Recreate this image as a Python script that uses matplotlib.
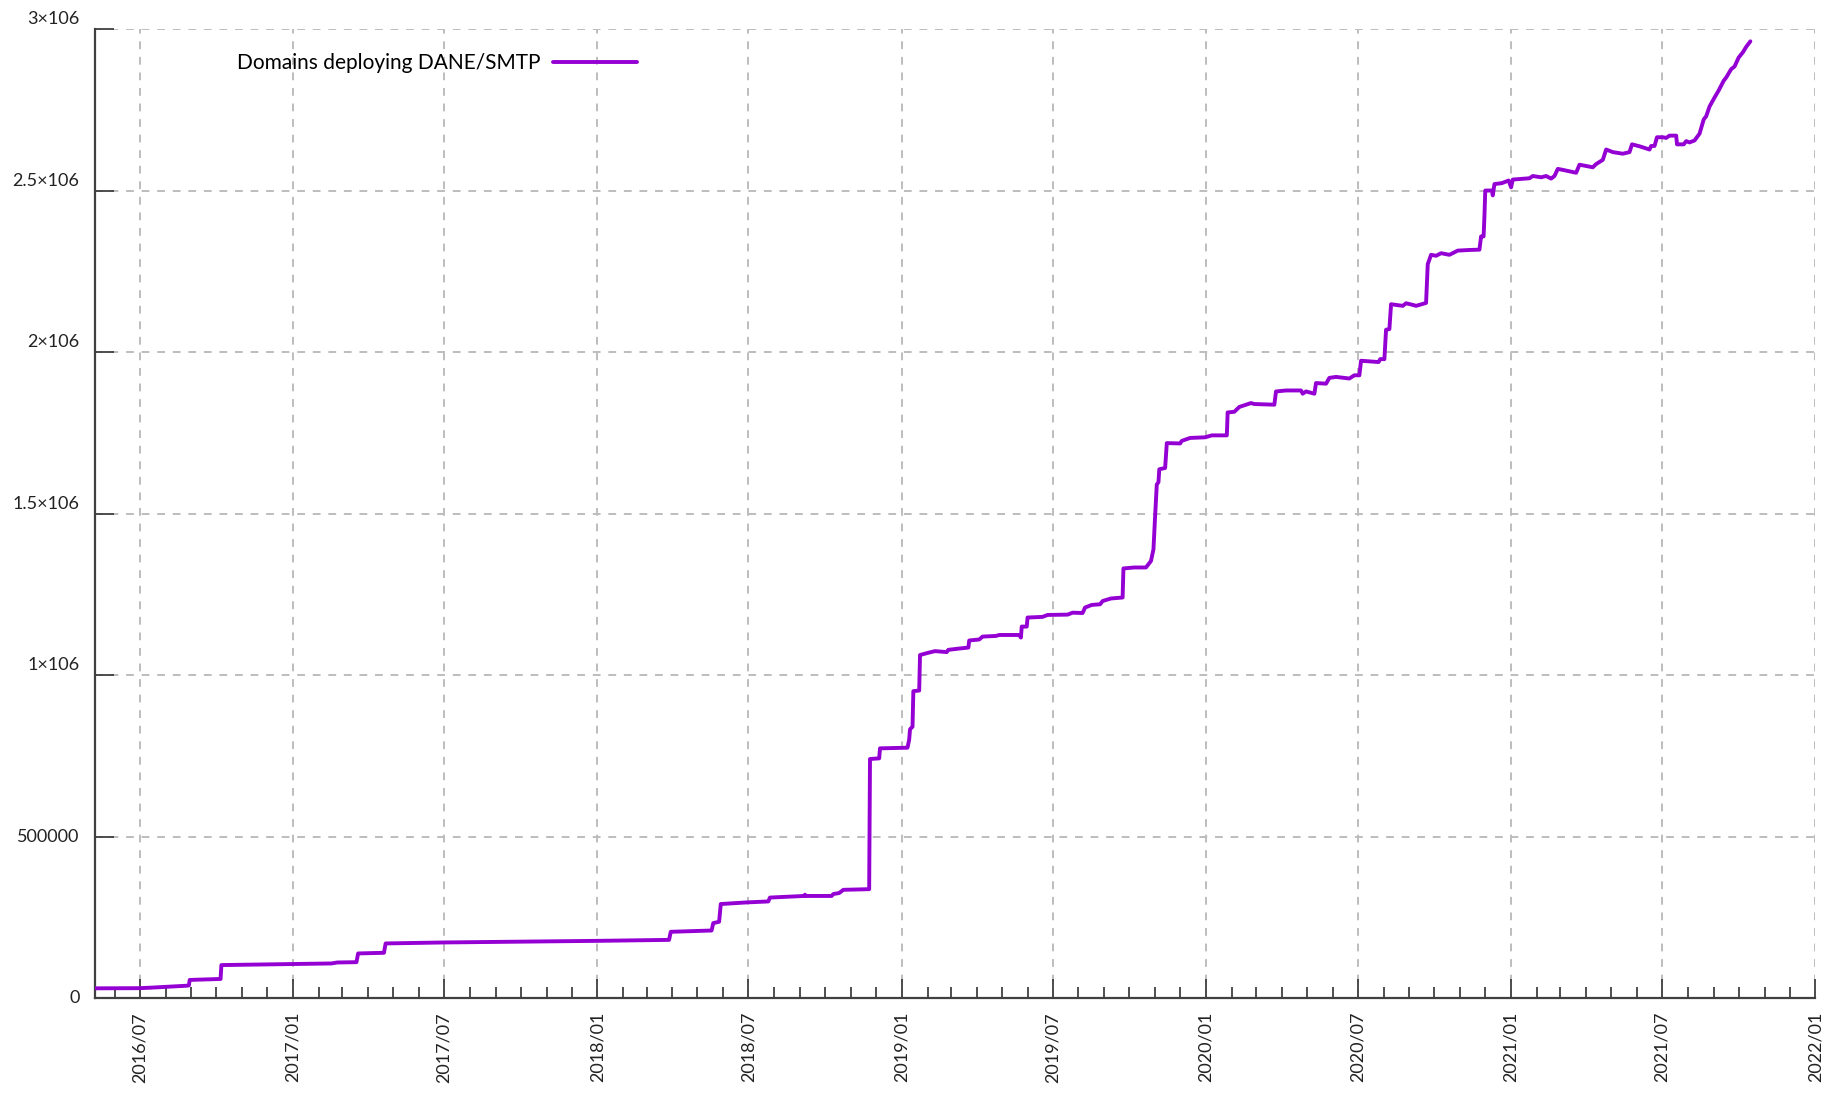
import numpy as np
import matplotlib
matplotlib.use("Agg")
import matplotlib.pyplot as plt
import matplotlib.dates as mdates
from matplotlib.transforms import blended_transform_factory, ScaledTranslation

plt.rcParams['font.family'] = ['Lato', 'DejaVu Sans']

# data
dates = [
    "2016-05-09", "2016-07-01", "2016-07-14", "2016-08-26", "2016-08-29", "2016-08-30",
    "2016-10-06", "2016-10-07", "2016-12-26", "2017-02-16", "2017-02-23", "2017-03-18",
    "2017-03-20", "2017-04-20", "2017-04-22", "2017-07-01", "2018-01-01", "2018-03-28",
    "2018-03-30", "2018-04-25", "2018-05-18", "2018-05-20", "2018-05-27", "2018-05-29",
    "2018-06-17", "2018-06-29", "2018-07-25", "2018-07-27", "2018-08-20", "2018-09-06",
    "2018-09-07", "2018-09-08", "2018-10-09", "2018-10-11", "2018-10-18", "2018-10-23",
    "2018-11-23", "2018-11-24", "2018-12-05", "2018-12-06", "2019-01-08", "2019-01-10",
    "2019-01-11", "2019-01-14", "2019-01-15", "2019-01-22", "2019-01-23", "2019-02-02",
    "2019-02-10", "2019-02-24", "2019-02-26", "2019-03-11", "2019-03-22", "2019-03-23",
    "2019-04-04", "2019-04-08", "2019-04-24", "2019-04-28", "2019-05-22", "2019-05-24",
    "2019-05-25", "2019-05-31", "2019-06-01", "2019-06-19", "2019-06-25", "2019-07-19",
    "2019-07-25", "2019-08-06", "2019-08-09", "2019-08-17", "2019-08-27", "2019-08-30",
    "2019-09-09", "2019-09-23", "2019-09-24", "2019-10-07", "2019-10-21", "2019-10-27",
    "2019-10-30", "2019-11-01", "2019-11-03", "2019-11-05", "2019-11-06", "2019-11-13",
    "2019-11-15", "2019-12-01", "2019-12-03", "2019-12-13", "2019-12-31", "2020-01-08",
    "2020-01-26", "2020-01-27", "2020-02-04", "2020-02-10", "2020-02-18", "2020-02-24",
    "2020-02-28", "2020-03-23", "2020-03-25", "2020-04-06", "2020-04-24", "2020-04-26",
    "2020-04-30", "2020-05-10", "2020-05-12", "2020-05-24", "2020-05-28", "2020-06-05",
    "2020-06-21", "2020-06-27", "2020-07-03", "2020-07-05", "2020-07-26", "2020-07-28",
    "2020-08-02", "2020-08-04", "2020-08-08", "2020-08-10", "2020-08-24", "2020-08-28",
    "2020-09-05", "2020-09-09", "2020-09-21", "2020-09-23", "2020-09-27", "2020-10-03",
    "2020-10-09", "2020-10-19", "2020-10-29", "2020-11-12", "2020-11-24", "2020-11-26",
    "2020-11-29", "2020-11-30", "2020-12-01", "2020-12-09", "2020-12-10", "2020-12-12",
    "2020-12-21", "2020-12-29", "2021-01-01", "2021-01-03", "2021-01-23", "2021-01-27",
    "2021-02-06", "2021-02-12", "2021-02-18", "2021-02-22", "2021-02-26", "2021-03-04",
    "2021-03-20", "2021-03-24", "2021-04-09", "2021-04-13", "2021-04-21", "2021-04-25",
    "2021-05-03", "2021-05-15", "2021-05-23", "2021-05-26", "2021-06-04", "2021-06-16",
    "2021-06-18", "2021-06-22", "2021-06-25", "2021-07-02", "2021-07-06", "2021-07-10",
    "2021-07-18", "2021-07-19", "2021-07-27", "2021-07-30", "2021-08-03", "2021-08-09",
    "2021-08-15", "2021-08-20", "2021-08-23", "2021-08-27", "2021-09-02", "2021-09-07",
    "2021-09-13", "2021-09-16", "2021-09-22", "2021-09-26", "2021-10-01", "2021-10-06",
    "2021-10-10", "2021-10-15",
]
domains = [
    30000, 30500, 32000, 38000, 39000, 56000,
    59000, 102000, 105000, 107000, 110000, 111000,
    138000, 140000, 169000, 172000, 177000, 180000,
    205000, 207000, 209000, 232000, 236000, 291000,
    294000, 296000, 299000, 311000, 314000, 316000,
    320000, 316000, 316000, 322000, 325000, 335000,
    337000, 740000, 742000, 773000, 775000, 800000,
    832000, 840000, 950000, 952000, 1062000, 1069000,
    1074000, 1071000, 1078000, 1082000, 1085000, 1107000,
    1110000, 1119000, 1121000, 1124000, 1124000, 1116000,
    1150000, 1150000, 1178000, 1180000, 1186000, 1187000,
    1193000, 1192000, 1209000, 1217000, 1219000, 1229000,
    1237000, 1240000, 1330000, 1333000, 1333000, 1353000,
    1389000, 1493000, 1590000, 1597000, 1637000, 1641000,
    1718000, 1717000, 1725000, 1734000, 1736000, 1742000,
    1742000, 1813000, 1815000, 1830000, 1837000, 1842000,
    1839000, 1837000, 1878000, 1881000, 1881000, 1871000,
    1878000, 1871000, 1904000, 1902000, 1920000, 1923000,
    1918000, 1928000, 1928000, 1973000, 1969000, 1978000,
    1978000, 2069000, 2071000, 2148000, 2143000, 2151000,
    2146000, 2143000, 2152000, 2272000, 2301000, 2298000,
    2306000, 2301000, 2314000, 2316000, 2317000, 2358000,
    2358000, 2420000, 2500000, 2500000, 2485000, 2520000,
    2523000, 2531000, 2510000, 2534000, 2538000, 2545000,
    2541000, 2545000, 2537000, 2545000, 2567000, 2564000,
    2555000, 2580000, 2572000, 2582000, 2595000, 2627000,
    2619000, 2614000, 2619000, 2643000, 2637000, 2627000,
    2638000, 2638000, 2665000, 2665000, 2663000, 2670000,
    2670000, 2643000, 2643000, 2653000, 2649000, 2655000,
    2676000, 2720000, 2730000, 2760000, 2788000, 2810000,
    2840000, 2850000, 2876000, 2884000, 2912000, 2928000,
    2945000, 2962000,
]
y_ticks = [0, 500000, 1000000, 1500000, 2000000, 2500000, 3000000]
y_tick_labels = ["0", "500000", "1×106", "1.5×106", "2×106", "2.5×106", "3×106"]
series_label = "Domains deploying DANE/SMTP"

x = np.array(dates, dtype="datetime64[D]")

fig = plt.figure(figsize=(18.26, 10.96), dpi=100)
ax = fig.add_axes([0.0523, 0.0894, 0.9419, 0.8841])

ax.plot(x, domains, color="#9400d3", lw=2.8, solid_joinstyle="round",
        solid_capstyle="round", label=series_label, zorder=3)

ax.set_xlim(np.datetime64("2016-05-09"), np.datetime64("2022-01-01"))
ax.set_ylim(0, 3000000)

ax.xaxis.set_major_locator(mdates.MonthLocator(bymonth=[1, 7]))
ax.xaxis.set_minor_locator(mdates.MonthLocator())
ax.xaxis.set_major_formatter(mdates.DateFormatter("%Y/%m"))
ax.set_yticks(y_ticks)
ax.set_yticklabels([])

for s in ["top", "right"]:
    ax.spines[s].set_visible(False)
for s in ["left", "bottom"]:
    ax.spines[s].set_color("#404040")
    ax.spines[s].set_linewidth(1.6)

ax.tick_params(axis="both", which="major", direction="in", length=14,
               width=1.3, color="#404040")
ax.tick_params(axis="x", which="minor", direction="in", length=8,
               width=1.3, color="#404040")
ax.tick_params(axis="x", which="major", labelsize=13, labelcolor="#222222",
               labelrotation=90, pad=10)

ax.grid(True, which="major", color="#bdbdbd", linestyle=(0, (4, 4)), lw=1.4)
ax.set_axisbelow(True)

# y tick labels, the x10^6 ones sit a bit higher like the original
trans = blended_transform_factory(ax.transAxes, ax.transData)
for val, lab in zip(y_ticks, y_tick_labels):
    dy = 10 / 100 if "×" in lab else 0
    t = trans + ScaledTranslation(-16 / 100, dy, fig.dpi_scale_trans)
    ax.text(0, val, lab, transform=t, ha="right", va="center",
            fontsize=13, color="#222222")

leg = ax.legend(loc="center", bbox_to_anchor=(0.1985, 0.965), frameon=False,
                markerfirst=False, fontsize=15, handlelength=4.0,
                handletextpad=0.6)

fig.savefig("out.png", dpi=100)
